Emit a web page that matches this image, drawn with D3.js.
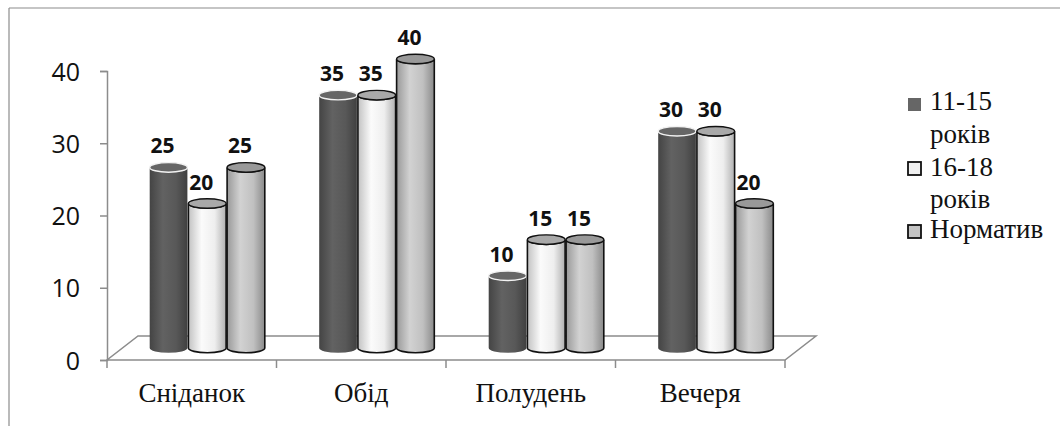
<!DOCTYPE html>
<html>
<head>
<meta charset="utf-8">
<script src="https://cdn.jsdelivr.net/npm/d3@7/dist/d3.min.js"></script>
<style>
  html, body { margin: 0; padding: 0; background: #fff; }
  svg { display: block; }
</style>
</head>
<body>
<svg id="chart" width="1060" height="426"></svg>
<script>
const categories = ["Сніданок", "Обід", "Полудень", "Вечеря"];
const seriesNames = ["11-15 років", "16-18 років", "Норматив"];
const legendLines = [["11-15", "років"], ["16-18", "років"], ["Норматив"]];
const values11_15 = [25, 35, 10, 30];
const values16_18 = [20, 35, 15, 30];
const valuesNorm = [25, 40, 15, 20];
const yTicks = [0, 10, 20, 30, 40];

const allSeries = [values11_15, values16_18, valuesNorm];

const svg = d3.select("#chart");
const W = 1060, H = 426;
const serif = "'Liberation Serif', 'Times New Roman', serif";
const sans = "'Open Sans', sans-serif";

// frame
svg.append("line").attr("x1", 9).attr("y1", 8).attr("x2", W).attr("y2", 8)
  .attr("stroke", "#8c8c8c").attr("stroke-width", 1.2);
svg.append("line").attr("x1", 9).attr("y1", 8).attr("x2", 9).attr("y2", H)
  .attr("stroke", "#8c8c8c").attr("stroke-width", 1.2);

const x = d3.scaleBand().domain(categories).range([107, 785]);
const inner = d3.scaleBand().domain(d3.range(3)).range([0, x.bandwidth()])
  .paddingInner(0).paddingOuter(0.69);
const y = d3.scaleLinear().domain([0, 40]).range([360, 71]);

// 3d depth
const depthX = 31, depthY = -24;
const midX = depthX / 2, midY = depthY / 2;

// floor
const floorPts = [
  [x.range()[0], y(0)], [x.range()[1], y(0)],
  [x.range()[1] + depthX, y(0) + depthY], [x.range()[0] + depthX, y(0) + depthY]
];
svg.append("polygon")
  .attr("points", floorPts.map(p => p.join(",")).join(" "))
  .attr("fill", "none").attr("stroke", "#8c8c8c").attr("stroke-width", 1.5);

// y axis
const yAxis = svg.append("g")
  .attr("transform", `translate(107,0)`)
  .call(d3.axisLeft(y).tickValues(yTicks).tickSize(7).tickPadding(20));
yAxis.select(".domain").attr("stroke", "#8c8c8c").attr("stroke-width", 1.5);
yAxis.selectAll(".tick line").attr("stroke", "#8c8c8c").attr("stroke-width", 1.5);
yAxis.selectAll("text")
  .attr("x", -27)
  .attr("dy", "0.36em")
  .style("font-family", sans)
  .style("font-size", "25px")
  .attr("text-anchor", "end")
  .attr("fill", "#111");

// x axis
const xAxis = svg.append("g")
  .attr("transform", `translate(0,${y(0)})`)
  .call(d3.axisBottom(x).tickSize(0).tickPadding(23));
xAxis.select(".domain").remove();
xAxis.selectAll("text")
  .style("font-family", serif)
  .style("font-size", "27px")
  .attr("fill", "#111");
svg.append("g").selectAll("line")
  .data(categories.map(c => x(c)).concat([x.range()[1]]))
  .enter().append("line")
  .attr("x1", d => d).attr("x2", d => d)
  .attr("y1", y(0)).attr("y2", y(0) + 8)
  .attr("stroke", "#8c8c8c").attr("stroke-width", 1.5);

// gradients
const defs = svg.append("defs");
const styles = [
  { stops: ["#444444", "#626262", "#585858", "#404040"], top: "#666666", topStroke: "#f2f2f2", stroke: "none" },
  { stops: ["#c2c2c2", "#fbfbfb", "#eeeeee", "#b0b0b0"], top: "#a9a9a9", topStroke: "#111", stroke: "#111" },
  { stops: ["#999999", "#d2d2d2", "#c0c0c0", "#8a8a8a"], top: "#999999", topStroke: "#111", stroke: "#111" }
];
styles.forEach((s, i) => {
  const g = defs.append("linearGradient").attr("id", "cyl" + i)
    .attr("x1", "0%").attr("x2", "100%").attr("y1", "0%").attr("y2", "0%");
  [0, 0.35, 0.7, 1].forEach((o, k) => {
    g.append("stop").attr("offset", o).attr("stop-color", s.stops[k]);
  });
});

const rx = inner.bandwidth() / 2 - 0.5;
const ry = 4.8;

const bars = [];
allSeries.forEach((vals, si) => {
  vals.forEach((v, ci) => {
    bars.push({ si, ci, v, cat: categories[ci] });
  });
});

const barG = svg.append("g");
bars.forEach(d => {
  const cx = x(d.cat) + inner(d.si) + inner.bandwidth() / 2 + midX;
  const yTop = y(d.v) + midY;
  const yBot = y(0) + midY;
  const s = styles[d.si];
  const path = `M${cx - rx},${yTop} L${cx - rx},${yBot} ` +
    `A${rx},${ry} 0 0 0 ${cx + rx},${yBot} L${cx + rx},${yTop} ` +
    `A${rx},${ry} 0 0 1 ${cx - rx},${yTop} Z`;
  barG.append("path")
    .attr("d", path)
    .attr("fill", `url(#cyl${d.si})`)
    .attr("stroke", s.stroke)
    .attr("stroke-width", 1.6);
  barG.append("ellipse")
    .attr("cx", cx).attr("cy", yTop)
    .attr("rx", rx).attr("ry", ry)
    .attr("fill", s.top)
    .attr("stroke", s.topStroke)
    .attr("stroke-width", 1.4);
  barG.append("text")
    .attr("x", cx - 6)
    .attr("y", y(d.v) - 26)
    .attr("text-anchor", "middle")
    .style("font-family", sans)
    .style("font-weight", "bold")
    .style("font-size", "21px")
    .attr("fill", "#111")
    .text(d.v);
});

// legend
const legendSquares = [
  { y: 98, fill: "#666666", stroke: "none" },
  { y: 162, fill: "#f0f0f0", stroke: "#111" },
  { y: 225, fill: "#c4c4c4", stroke: "#111" }
];
const legendBaselines = [[110, 143], [176, 208], [238]];
const lg = svg.append("g");
seriesNames.forEach((name, i) => {
  lg.append("rect")
    .attr("x", 908).attr("y", legendSquares[i].y)
    .attr("width", 13).attr("height", 13)
    .attr("fill", legendSquares[i].fill)
    .attr("stroke", legendSquares[i].stroke)
    .attr("stroke-width", 1.8);
  legendLines[i].forEach((line, k) => {
    lg.append("text")
      .attr("x", 930).attr("y", legendBaselines[i][k])
      .style("font-family", serif)
      .style("font-size", "27px")
      .attr("fill", "#111")
      .text(line);
  });
});
</script>
</body>
</html>
